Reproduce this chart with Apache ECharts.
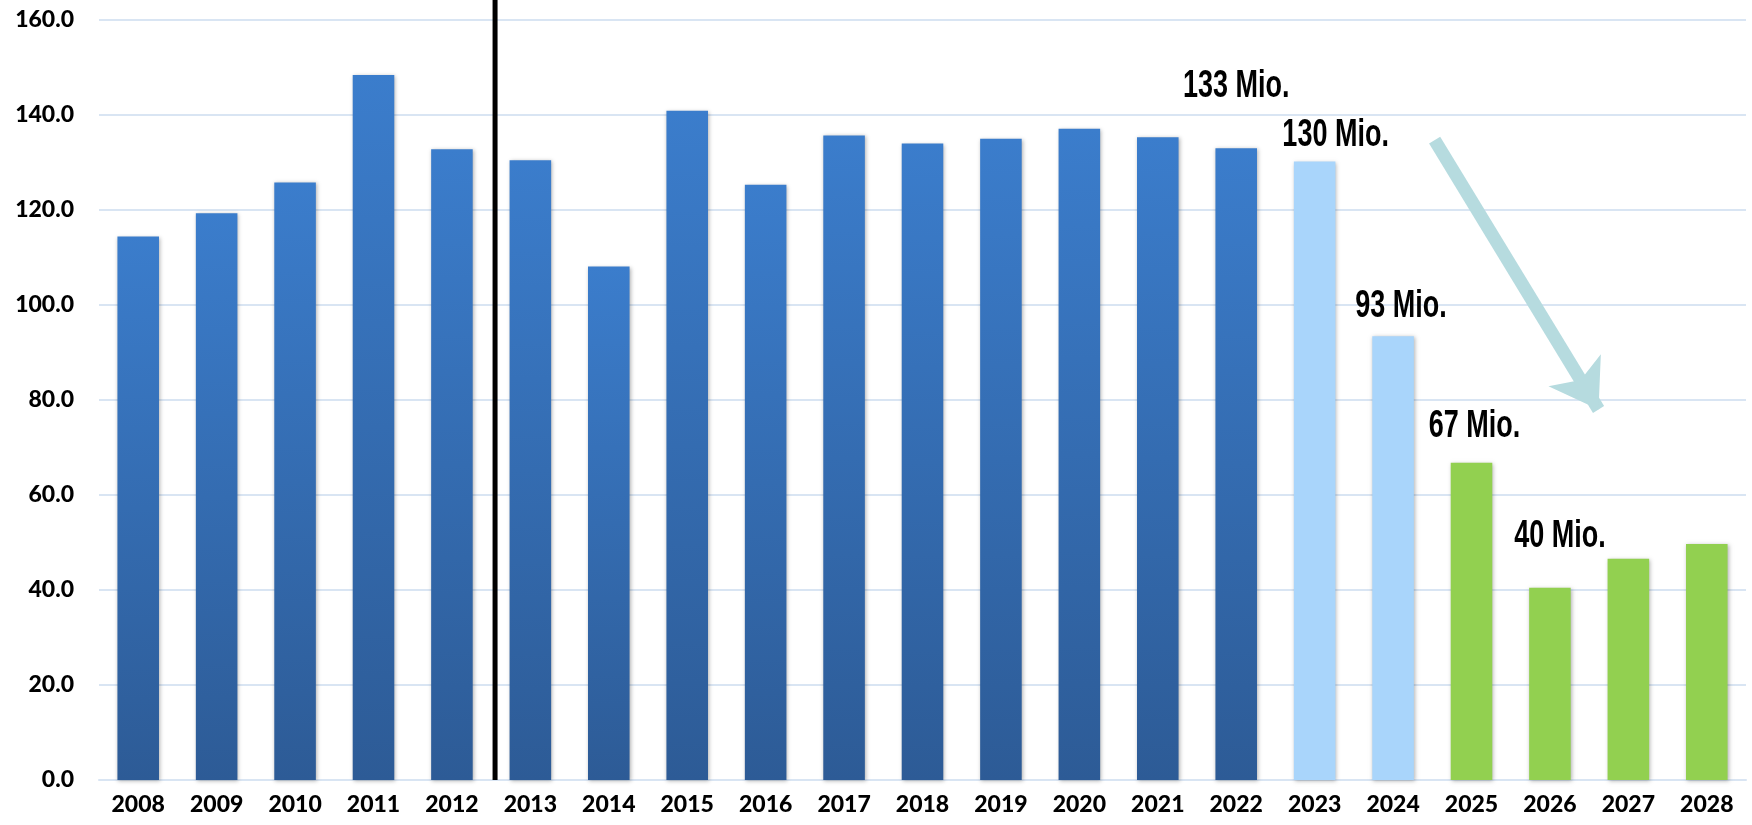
<!DOCTYPE html>
<html>
<head>
<meta charset="utf-8">
<script src="https://cdn.jsdelivr.net/npm/echarts@6/dist/echarts.min.js"></script>
<style>
html,body{margin:0;padding:0;background:#fff;}
#chart{width:1752px;height:825px;}
</style>
</head>
<body>
<div id="chart"></div>
<script>
// ---- data ----
var years = ['2008','2009','2010','2011','2012','2013','2014','2015','2016','2017','2018','2019','2020','2021','2022','2023','2024','2025','2026','2027','2028'];
var values = [114.4,119.3,125.8,148.4,132.8,130.5,108.1,140.9,125.3,135.7,134.0,135.0,137.1,135.3,133.0,130.2,93.4,66.8,40.5,46.6,49.7];
var groups = ['actual','actual','actual','actual','actual','actual','actual','actual','actual','actual','actual','actual','actual','actual','actual','estimate','estimate','forecast','forecast','forecast','forecast'];
var labelTexts = ['','','','','','','','','','','','','','','133 Mio.','130 Mio.','93 Mio.','67 Mio.','40 Mio.','',''];
var yTicks = [0,20,40,60,80,100,120,140,160];
var dividerX = 4.55;            // between 2012 and 2013 (category index units)
var dividerY = [0, 164.4];
var arrowFrom = [16.53, 134.7];
var arrowTo = [18.62, 78.0];

// ---- styles ----
var labelOffsets = {14:[0,-62],15:[21,-26],16:[8,-30],17:[3,-36],18:[10,-51]};
var colors = {
  actual: new echarts.graphic.LinearGradient(0,0,0,1,[{offset:0,color:'#3b7dcc'},{offset:1,color:'#2d5b96'}]),
  estimate: '#a9d5fb',
  forecast: '#92d050'
};
var gridColor = '#d9e5f3';
var axisFont = {color:'#000',fontFamily:'Lato, sans-serif',fontWeight:900,fontSize:23};

var barData = values.map(function(v,i){
  return {value:v, itemStyle:{color:colors[groups[i]]}};
});
var labelData = [];
labelTexts.forEach(function(t,i){ if (t) labelData.push([i, values[i], i]); });

var chart = echarts.init(document.getElementById('chart'));
chart.setOption({
  animation:false,
  grid:{left:99,right:6,top:20,bottom:45,containLabel:false},
  xAxis:[{
    type:'category', data:years,
    axisLine:{show:true,lineStyle:{color:gridColor,width:2}},
    axisTick:{show:false},
    axisLabel:Object.assign({margin:13},axisFont)
  },{
    type:'value', min:-0.5, max:20.5, show:false
  }],
  yAxis:{
    type:'value', min:yTicks[0], max:yTicks[yTicks.length-1], interval:20,
    axisLine:{show:false}, axisTick:{show:false},
    splitLine:{lineStyle:{color:gridColor,width:2}},
    axisLabel:Object.assign({margin:25,formatter:function(v){return v.toFixed(1);}},axisFont)
  },
  series:[{
    type:'bar', data:barData, barCategoryGap:'47%',
    itemStyle:{shadowBlur:4,shadowColor:'rgba(0,0,0,0.3)',shadowOffsetX:1,shadowOffsetY:1}
  },{
    type:'line', xAxisIndex:1, clip:false, symbol:'none', silent:true,
    data:[[dividerX,dividerY[0]],[dividerX,dividerY[1]]],
    lineStyle:{color:'#000',width:5}
  },{
    type:'lines', coordinateSystem:'cartesian2d', xAxisIndex:1, silent:true,
    symbol:['none','arrow'], symbolSize:46,
    lineStyle:{color:'#b6dbdf',width:13,opacity:1,curveness:0},
    data:[{coords:[arrowFrom,arrowTo]}]
  },{
    type:'custom', silent:true, clip:false,
    data:labelData,
    renderItem:function(params, api){
      var idx = api.value(2);
      var p = api.coord([api.value(0), api.value(1)]);
      var off = labelOffsets[idx] || [0,0];
      return {
        type:'text', x:p[0]+off[0], y:p[1]+off[1], scaleX:0.75, scaleY:1.06,
        style:{text:labelTexts[idx], x:0, y:0, align:'center', verticalAlign:'middle',
          font:'bold 36px "Liberation Sans", Arial, sans-serif', fill:'#000'}
      };
    }
  }]
});
</script>
</body>
</html>
